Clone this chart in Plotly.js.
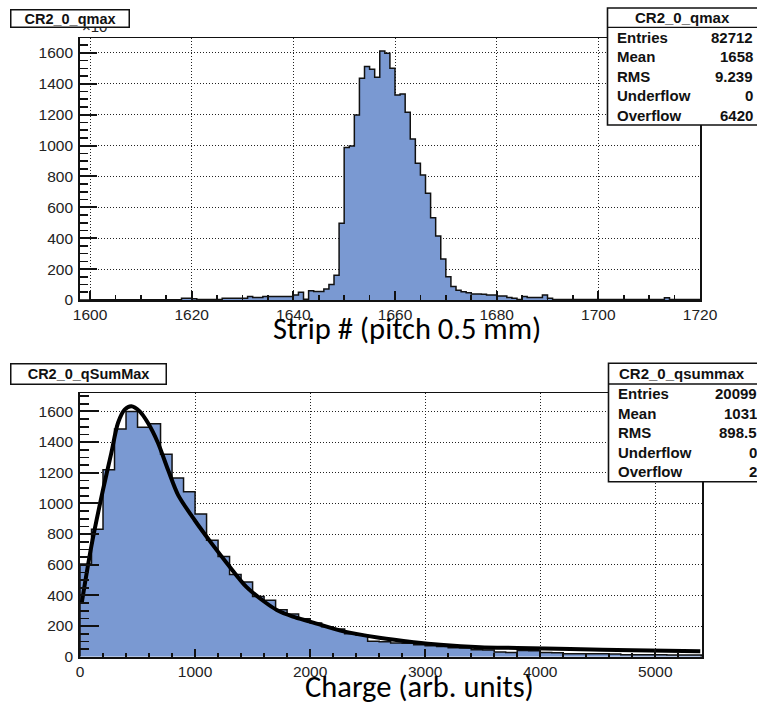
<!DOCTYPE html>
<html>
<head>
<meta charset="utf-8">
<script src="https://cdn.plot.ly/plotly-3.0.1.min.js"></script>
<style>html,body{margin:0;padding:0;background:#fff;}#chart{width:757px;height:706px;}</style>
</head>
<body>
<div id="chart"></div>
<script>
// ---------- DATA ----------
// Top histogram: CR2_0_qmax, bins of width 1 strip starting at 1598
const qmaxLowEdge = 1598;
const qmaxBinWidth = 1;
const qmaxCounts = [
  0, 0,
  2, 2, 2, 2, 2, 2, 2, 2, 2, 2, 2, 2, 2, 2, 2, 2, 2, 2,
  11, 11, 8,
  3, 3, 3, 3, 3,
  11, 11, 11, 11, 11,
  22, 16, 16,
  23, 23, 23, 23, 23, 23,
  32, 50, 5, 60, 55, 55, 71, 101, 160, 497,
  987, 998, 1198, 1436, 1512, 1494, 1442, 1613, 1598, 1501, 1328, 1334, 1216, 1043, 885, 810, 691, 533, 415, 266,
  150, 88, 63, 54, 47, 39, 39, 37, 32, 32, 26, 26, 17, 11, 3, 22, 17, 17, 17, 32, 11,
  3, 3, 3, 3, 3, 3, 3, 3, 3, 3, 3, 3, 3, 3, 3, 3, 3, 3, 3, 3, 3, 3,
  15,
  3, 3, 3, 3, 3, 3
];
const qmaxTickVals = [1600, 1620, 1640, 1660, 1680, 1700, 1720];
const qmaxYTicks = [0, 200, 400, 600, 800, 1000, 1200, 1400, 1600];

// Bottom histogram: CR2_0_qSumMax, bins of width 100 starting at 0
const qsumLowEdge = 0;
const qsumBinWidth = 100;
const qsumCounts = [
  605, 832, 1219, 1485, 1600, 1496, 1520, 1320, 1165, 1076,
  930, 760, 653, 536, 487, 392, 368, 307, 278, 248,
  220, 196, 180, 150, 140, 100, 98, 90, 88, 78,
  72, 66, 58, 56, 46, 44, 30, 28, 40, 38,
  28, 26, 20, 20, 19, 19, 18, 13, 12, 12,
  12, 11, 11, 11
];
// Fit curve
const fitX = [15, 98, 200, 272, 330, 388, 446, 519, 591, 678, 765, 852, 997, 1142, 1287, 1446, 1600, 1710, 1850, 2000, 2290, 2600, 2900, 3130, 3478, 3800, 4261, 4800, 5391];
const fitY = [350, 718, 1089, 1328, 1524, 1611, 1633, 1600, 1524, 1394, 1219, 1056, 890, 741, 600, 455, 360, 305, 262, 229, 165, 124, 95, 78, 62, 57, 50, 42, 35];
const qsumTickVals = [0, 1000, 2000, 3000, 4000, 5000];
const qsumYTicks = [0, 200, 400, 600, 800, 1000, 1200, 1400, 1600];

// Stats boxes
const stats1Title = 'CR2_0_qmax';
const stats1Labels = ['Entries', 'Mean', 'RMS', 'Underflow', 'Overflow'];
const stats1Values = ['82712', '1658', '9.239', '0', '6420'];
const stats2Title = 'CR2_0_qsummax';
const stats2Labels = ['Entries', 'Mean', 'RMS', 'Underflow', 'Overflow'];
const stats2Values = ['20099', '1031', '898.5', '0', '2'];

const title1 = 'CR2_0_qmax';
const title2 = 'CR2_0_qSumMax';
const xTitle1 = 'Strip # (pitch 0.5 mm)';
const xTitle2 = 'Charge (arb. units)';

// ---------- BUILD ----------
const W = 757, H = 706;
const px = v => v / W;
const py = v => 1 - v / H;

function stepArrays(low, width, counts) {
  const xs = [low], ys = [0];
  for (let i = 0; i < counts.length; i++) {
    xs.push(low + i * width);
    ys.push(counts[i]);
  }
  xs.push(low + counts.length * width); ys.push(counts[counts.length - 1]);
  xs.push(low + counts.length * width); ys.push(0);
  return {xs, ys};
}

const fillCol = '#7a99d2';
const s1 = stepArrays(qmaxLowEdge, qmaxBinWidth, qmaxCounts);
const s2 = stepArrays(qsumLowEdge, qsumBinWidth, qsumCounts);

const traces = [
  {x: s1.xs, y: s1.ys, type: 'scatter', mode: 'lines', line: {shape: 'hv', color: '#111', width: 1.5},
   fill: 'tozeroy', fillcolor: fillCol, xaxis: 'x', yaxis: 'y', hoverinfo: 'skip'},
  {x: s2.xs, y: s2.ys, type: 'scatter', mode: 'lines', line: {shape: 'hv', color: '#111', width: 1.5},
   fill: 'tozeroy', fillcolor: fillCol, xaxis: 'x2', yaxis: 'y2', hoverinfo: 'skip'},
  {x: fitX, y: fitY, type: 'scatter', mode: 'lines', line: {shape: 'spline', smoothing: 0.8, color: '#000', width: 4},
   xaxis: 'x2', yaxis: 'y2', hoverinfo: 'skip'}
];

const tickFont = {family: 'Liberation Sans, Arial, sans-serif', size: 15.5, color: '#222'};
const gridCommon = {showgrid: true, gridcolor: '#222', griddash: '1px,2px', gridwidth: 1,
  zeroline: false, showline: true, linecolor: '#111', linewidth: 1.8, mirror: true,
  ticks: 'inside', tickcolor: '#111', tickwidth: 2, tickfont: tickFont};

const layout = {
  width: W, height: H,
  margin: {l: 0, r: 0, t: 0, b: 0},
  paper_bgcolor: '#fff', plot_bgcolor: '#fff',
  showlegend: false,
  xaxis: Object.assign({}, gridCommon, {
    domain: [px(80), px(700)], range: [1598.03, 1720], anchor: 'y',
    tickvals: qmaxTickVals, ticklen: 9,
    minor: {dtick: 5, tick0: 1600, ticks: 'inside', ticklen: 5, tickwidth: 1.6, tickcolor: '#111', showgrid: false}
  }),
  yaxis: Object.assign({}, gridCommon, {
    domain: [py(300), py(38.3)], range: [0, 1695], anchor: 'x',
    tickvals: qmaxYTicks, ticklen: 17, ticklabelstandoff: 2,
    minor: {dtick: 50, tick0: 0, ticks: 'inside', ticklen: 8, tickwidth: 1.6, tickcolor: '#111', showgrid: false}
  }),
  xaxis2: Object.assign({}, gridCommon, {
    domain: [px(80), px(702)], range: [0, 5406], anchor: 'y2',
    tickvals: qsumTickVals, ticklen: 8,
    minor: {dtick: 200, tick0: 0, ticks: 'inside', ticklen: 4, tickwidth: 1.6, tickcolor: '#111', showgrid: false}
  }),
  yaxis2: Object.assign({}, gridCommon, {
    domain: [py(656.7), py(393.3)], range: [0, 1718], anchor: 'x2',
    tickvals: qsumYTicks, ticklen: 19, ticklabelstandoff: 2,
    minor: {dtick: 50, tick0: 0, ticks: 'inside', ticklen: 9, tickwidth: 1.6, tickcolor: '#111', showgrid: false}
  }),
  shapes: [],
  annotations: []
};

// stats boxes
function addStats(x0, y0, yHeader, y1, title, labels, values, valRight) {
  layout.shapes.push({type: 'rect', xref: 'paper', yref: 'paper', x0: px(x0), x1: px(W + 5), y0: py(y0), y1: py(y1),
    fillcolor: '#fff', line: {color: '#111', width: 1.6}, layer: 'above'});
  layout.shapes.push({type: 'line', xref: 'paper', yref: 'paper', x0: px(x0), x1: px(W + 5), y0: py(yHeader), y1: py(yHeader),
    line: {color: '#111', width: 1.3}, layer: 'above'});
  const f = {family: 'Liberation Sans, Arial, sans-serif', size: 15, color: '#111', weight: 'bold'};
  layout.annotations.push({xref: 'paper', yref: 'paper', x: px(682), y: py((y0 + yHeader) / 2), xanchor: 'center', yanchor: 'middle',
    text: '<b>' + title + '</b>', showarrow: false, font: f});
  const rowH = (y1 - yHeader) / labels.length;
  for (let i = 0; i < labels.length; i++) {
    const yc = yHeader + rowH * (i + 0.5);
    layout.annotations.push({xref: 'paper', yref: 'paper', x: px(x0 + 7), y: py(yc), xanchor: 'left', yanchor: 'middle',
      text: '<b>' + labels[i] + '</b>', showarrow: false, font: f});
    layout.annotations.push({xref: 'paper', yref: 'paper', x: px(valRight), y: py(yc), xanchor: 'right', yanchor: 'middle',
      text: '<b>' + values[i] + '</b>', showarrow: false, font: f});
  }
}
addStats(607.5, 8, 27.3, 125, stats1Title, stats1Labels, stats1Values, 755);
addStats(608.5, 363.3, 384, 481.7, stats2Title, stats2Labels, stats2Values, 759);

// exponent label partially hidden by title box
layout.annotations.push({xref: 'paper', yref: 'paper', x: px(94), y: py(27), xanchor: 'center', yanchor: 'middle',
  text: '×10', showarrow: false, font: {family: 'Liberation Sans, Arial, sans-serif', size: 15, color: '#222'}});

// title boxes
function addTitleBox(x0, y0, x1, y1, text) {
  layout.annotations.push({xref: 'paper', yref: 'paper', x: px((x0 + x1) / 2), y: py((y0 + y1) / 2), xanchor: 'center', yanchor: 'middle',
    text: '<b>' + text + '</b>', showarrow: false, width: (x1 - x0) - 2, height: (y1 - y0) - 2,
    bgcolor: '#fff', bordercolor: '#111', borderwidth: 1.5, borderpad: 0,
    font: {family: 'Liberation Sans, Arial, sans-serif', size: 14.5, color: '#111'}});
}
addTitleBox(10, 10, 129, 28, title1);
addTitleBox(10, 363.3, 166, 384, title2);

// axis titles (overlaid text)
const titleFont = {family: 'Carlito, Lato, sans-serif', size: 30.5, color: '#000'};
layout.annotations.push({xref: 'paper', yref: 'paper', x: px(407), y: py(328), xanchor: 'center', yanchor: 'middle',
  text: xTitle1, showarrow: false, font: titleFont});
layout.annotations.push({xref: 'paper', yref: 'paper', x: px(419), y: py(686.5), xanchor: 'center', yanchor: 'middle',
  text: xTitle2, showarrow: false, font: titleFont});

Plotly.newPlot('chart', traces, layout, {staticPlot: true, displayModeBar: false});
</script>
</body>
</html>
